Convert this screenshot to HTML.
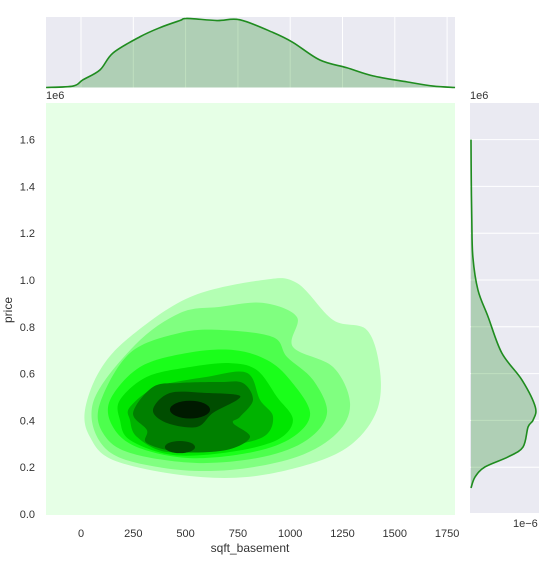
<!DOCTYPE html>
<html><head><meta charset="utf-8"><style>
html,body{margin:0;padding:0;background:#fff;}
svg{display:block;font-family:"Liberation Sans",sans-serif;}
</style></head><body>
<svg id="chart" width="548" height="567" viewBox="0 0 548 567"></svg>
<script>
// ---- data ----
const xTicks = [0, 250, 500, 750, 1000, 1250, 1500, 1750];
const yTicks = [0.0, 0.2, 0.4, 0.6, 0.8, 1.0, 1.2, 1.4, 1.6];
const levelColors = ["#b3ffb3","#80ff80","#4dff4d","#1aff1a","#00e600","#00b300","#008000","#004d00","#001a00"];
const level1 = [[19,.444],[91,.615],[234,.757],[521,.927],[870,1.0],[1032,.987],[1205,.829],[1367,.786],[1429,.615],[1415,.444],[1300,.303],[1109,.218],[793,.158],[473,.167],[153,.231],[43,.329]];
const level2 = [[57,.474],[258,.722],[473,.859],[664,.885],[870,.902],[1032,.842],[1013,.714],[1205,.628],[1286,.474],[1224,.346],[1032,.244],[712,.188],[392,.197],[124,.274]];
const level3 = [[91,.474],[234,.688],[473,.774],[679,.786],[918,.756],[985,.671],[1109,.573],[1176,.432],[1080,.316],[870,.244],[554,.218],[234,.261],[105,.346]];
const level4 = [[139,.487],[282,.628],[507,.688],[727,.701],[889,.658],[999,.573],[1095,.432],[1013,.329],[822,.265],[521,.239],[268,.286],[153,.372]];
const level5 = [[186,.487],[315,.586],[521,.628],[712,.645],[841,.615],[937,.5],[1013,.402],[937,.316],[712,.265],[440,.252],[234,.316],[186,.402]];
const level6 = [[234,.457],[363,.543],[602,.586],[793,.603],[856,.487],[918,.415],[870,.329],[664,.286],[411,.265],[268,.329],[234,.402]];
const level7 = [[249,.432],[344,.543],[473,.56],[664,.564],[774,.56],[822,.487],[760,.415],[727,.389],[808,.329],[698,.274],[473,.265],[315,.303],[315,.359]];
const level8a = [[344,.444],[425,.517],[602,.517],[746,.509],[746,.487],[631,.432],[554,.372],[411,.389]];
const level8b = [[473,.286,72,.026]]; // center x, center y, rx, ry (data units)
const level9 = [[521,.446,96,.038]];
const topX = [-167,-38,10,91,153,282,378,473,507,650,760,918,1013,1142,1271,1396,1558,1683,1788];
const topDensity = [0,.2,1.1,2.5,4.9,7.2,8.5,9.5,9.8,9.5,9.6,7.8,6.4,3.9,2.8,1.65,.8,.2,0];
const rightPrice = [1.6,1.43,1.256,1.098,.957,.842,.688,.573,.457,.402,.372,.286,.244,.201,.158,.111];
const rightDensity = [0,.01,.03,.07,.26,.64,1.15,1.9,2.4,2.32,2.13,1.94,1.38,.52,.15,0];

// ---- scales ----
const M = {l:46, r:455, t:103, b:515};
const X = v => 81 + v*0.2092;
const Y = v => 514 - v*234;
const TOP = {t:17, b:87.5, max:10};
const TY = d => TOP.b - d/TOP.max*(TOP.b-TOP.t);
const RT = {l:471, r:538, max:2.5};
const RX = d => RT.l + d/RT.max*(RT.r-RT.l);

const svg = document.getElementById('chart');
const NS = 'http://www.w3.org/2000/svg';
function mk(tag, attrs, parent){const e=document.createElementNS(NS,tag);for(const k in attrs)e.setAttribute(k,attrs[k]);(parent||svg).appendChild(e);return e;}
function smoothClosed(pts){
  const n=pts.length;let d=`M${pts[0][0]},${pts[0][1]}`;
  for(let i=0;i<n;i++){const p0=pts[(i-1+n)%n],p1=pts[i],p2=pts[(i+1)%n],p3=pts[(i+2)%n];
    d+=`C${p1[0]+(p2[0]-p0[0])/6},${p1[1]+(p2[1]-p0[1])/6} ${p2[0]-(p3[0]-p1[0])/6},${p2[1]-(p3[1]-p1[1])/6} ${p2[0]},${p2[1]}`;}
  return d+'Z';
}
function smoothOpen(pts){
  let d=`M${pts[0][0]},${pts[0][1]}`;
  for(let i=0;i<pts.length-1;i++){const p0=pts[Math.max(i-1,0)],p1=pts[i],p2=pts[i+1],p3=pts[Math.min(i+2,pts.length-1)];
    d+=`C${p1[0]+(p2[0]-p0[0])/6},${p1[1]+(p2[1]-p0[1])/6} ${p2[0]-(p3[0]-p1[0])/6},${p2[1]-(p3[1]-p1[1])/6} ${p2[0]},${p2[1]}`;}
  return d;
}

// ---- main panel ----
const bg = mk('rect',{x:M.l,y:M.t,width:M.r-M.l,height:M.b-M.t,fill:'#e6ffe6'});


const polys=[level1,level2,level3,level4,level5,level6,level7,level8a];
polys.forEach((lv,i)=>{
  const p=mk('path',{d:smoothClosed(lv.map(q=>[X(q[0]),Y(q[1])])),fill:levelColors[i]});
  
  
});
[[level8b,7],[level9,8]].forEach(([arr,ci])=>arr.forEach(e=>{
  const el=mk('ellipse',{cx:X(e[0]),cy:Y(e[1]),rx:e[2]*0.2092,ry:e[3]*234,fill:levelColors[ci]});
  
  
}));
xTicks.forEach(t=>{
  const tx=mk('text',{x:X(t),y:537,'text-anchor':'middle','font-size':11,fill:'#333'});tx.textContent=t;
  
  
});
yTicks.forEach(t=>{
  const ty=mk('text',{x:35,y:Y(t)+4,'text-anchor':'end','font-size':11,fill:'#333'});ty.textContent=t.toFixed(1);
  
  
});
const xl=mk('text',{x:250,y:552,'text-anchor':'middle','font-size':12,fill:'#333'});xl.textContent='sqft_basement';


const yl=mk('text',{x:12,y:310,'text-anchor':'middle','font-size':12,fill:'#333',transform:'rotate(-90 12 310)'});yl.textContent='price';


const o1=mk('text',{x:46,y:99,'font-size':11,fill:'#333'});o1.textContent='1e6';



// ---- top marginal ----
const tb=mk('rect',{x:M.l,y:TOP.t,width:M.r-M.l,height:TOP.b-TOP.t,fill:'#eaeaf2'});


xTicks.forEach(t=>{const g=mk('line',{x1:X(t),x2:X(t),y1:TOP.t,y2:TOP.b,stroke:'#fff','stroke-width':1});
  
  });
const tpts=topX.map((v,i)=>[X(v),TY(topDensity[i])]);
const tf=mk('path',{d:smoothOpen(tpts)+`L${X(topX[topX.length-1])},${TOP.b}L${X(topX[0])},${TOP.b}Z`,fill:'#008000','fill-opacity':0.25});


const tl=mk('path',{d:smoothOpen(tpts),fill:'none',stroke:'#1f8c1f','stroke-width':1.6});


const o2=mk('text',{x:470,y:99,'font-size':11,fill:'#333'});o2.textContent='1e6';



// ---- right marginal ----
const rb=mk('rect',{x:RT.l-1,y:M.t,width:RT.r-RT.l+2,height:M.b-M.t-2,fill:'#eaeaf2'});


yTicks.forEach(t=>{const g=mk('line',{x1:RT.l-1,x2:RT.r+1,y1:Y(t),y2:Y(t),stroke:'#fff','stroke-width':1});
  
  });
const rpts=rightPrice.map((v,i)=>[RX(rightDensity[i]),Y(v)]);
const rf=mk('path',{d:smoothOpen(rpts)+`L${RT.l},${Y(rightPrice[rightPrice.length-1])}L${RT.l},${Y(rightPrice[0])}Z`,fill:'#008000','fill-opacity':0.25});


const rl=mk('path',{d:smoothOpen(rpts),fill:'none',stroke:'#1f8c1f','stroke-width':1.6});


const o3=mk('text',{x:513,y:527,'font-size':11,fill:'#333'});o3.textContent='1e\u22126';


</script>
</body></html>
